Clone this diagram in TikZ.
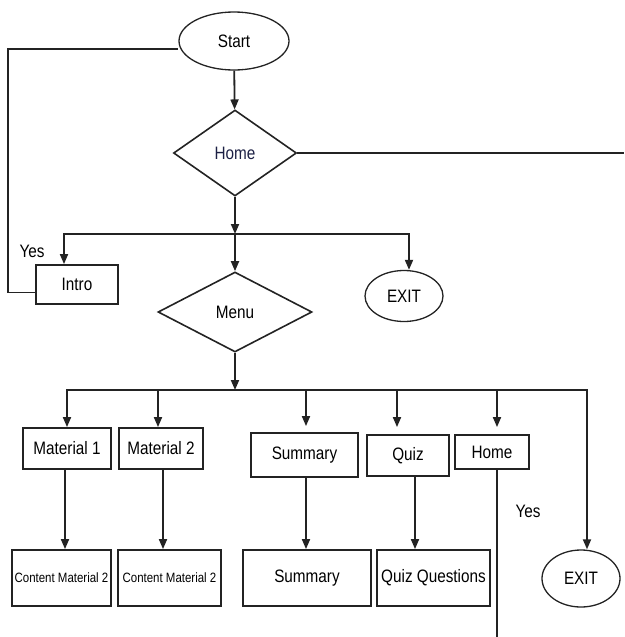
\documentclass[tikz,border=0pt]{standalone}
\usepackage{fontspec}
\setmainfont{Liberation Sans}[FakeStretch=0.85]
\usepackage{tikz}
\usetikzlibrary{positioning, arrows.meta, shapes.geometric}
\definecolor{linecolor}{RGB}{35,35,35}
\definecolor{homecolor}{RGB}{28,32,68}

\begin{document}
\begin{tikzpicture}[
    x=1pt, y=-1pt,
    box/.style={draw=linecolor, rectangle, line width=1.8pt, inner sep=0pt, font=\fontsize{18}{20}\selectfont},
    term/.style={draw=linecolor, ellipse, line width=1.3pt, inner sep=0pt, font=\fontsize{18}{20}\selectfont},
    decision/.style={draw=linecolor, diamond, line width=1.6pt, inner sep=0pt, font=\fontsize{18}{20}\selectfont},
    arrow/.style={-{Triangle[length=10pt, width=8pt]}, line width=1.8pt, linecolor},
    line/.style={line width=1.8pt, linecolor},
    lbl/.style={font=\fontsize{18}{20}\selectfont}
]
    \useasboundingbox (0,0) rectangle (624,637);

    % Haut
    \node[term, minimum width=110pt, minimum height=58pt] (start) at (234,41) {Start};
    \node[decision, minimum width=123pt, minimum height=86pt, text=homecolor] (home) at (235,153) {Home};
    \coordinate (j1) at (235,234);
    \coordinate (homeR) at (624,153);

    % Branches du premier niveau
    \node[box, minimum width=82pt, minimum height=39pt] (intro) at (77,284.5) {Intro};
    \node[lbl] (yes1) at (32,251) {Yes};
    \node[term, minimum width=78pt, minimum height=51pt] (exit1) at (404,296) {EXIT};
    \node[decision, minimum width=154pt, minimum height=80pt] (menu) at (235,312) {Menu};
    \coordinate (j2) at (235,390);
    \coordinate (loop) at (8,49);

    % Menu
    \node[box, minimum width=88pt, minimum height=41pt] (mat1) at (67,448.5) {Material 1};
    \node[box, minimum width=84pt, minimum height=41pt] (mat2) at (161,448.5) {Material 2};
    \node[box, minimum width=107pt, minimum height=44pt] (summ) at (304.5,455) {Summary};
    \node[box, minimum width=82pt, minimum height=41pt] (quiz) at (408,455.5) {Quiz};
    \node[box, minimum width=74pt, minimum height=34pt] (homeb) at (492,452) {Home};
    \node[lbl] (yes2) at (528,511) {Yes};

    % Contenus
    \node[box, minimum width=99pt, minimum height=56pt, font=\fontsize{13.5}{15}\selectfont] (cont1) at (61.5,578) {Content Material 2};
    \node[box, minimum width=103pt, minimum height=56pt, font=\fontsize{13.5}{15}\selectfont] (cont2) at (169.5,578) {Content Material 2};
    \node[box, minimum width=128pt, minimum height=56pt] (summ2) at (307,578) {Summary};
    \node[box, minimum width=113pt, minimum height=56pt] (quizq) at (433.5,578) {Quiz Questions};
    \node[term, minimum width=78pt, minimum height=57pt] (exit2) at (581,578.5) {EXIT};
    \coordinate (homeEnd) at (497,637);

    % Liaisons
    \draw[arrow] (start) -- (home);
    \draw[line] (home.east) -- (homeR);
    \draw[line] ([yshift=-8pt]intro.west) -| (loop) -- (loop -| start.west);
    \draw[arrow] (home.south) -- (j1);
    \draw[arrow] (j1) -- (menu.north);
    \draw[arrow] (j1) -| ([xshift=-13pt]intro.north);
    \draw[arrow] (j1) -| ([xshift=5pt]exit1.north);

    \draw[arrow] (menu.south) -- (j2);
    \draw[arrow] (j2) -| (mat1.north);
    \draw[arrow] (j2) -| ([xshift=-3pt]mat2.north);
    \draw[arrow, shorten >=6pt] (j2) -| ([xshift=1.5pt]summ.north);
    \draw[arrow, shorten >=7pt] (j2) -| ([xshift=-11pt]quiz.north);
    \draw[arrow, shorten >=7pt] (j2) -| ([xshift=5pt]homeb.north);
    \draw[arrow] (j2) -| ([xshift=6pt]exit2.north);

    \draw[arrow] ([xshift=-2pt]mat1.south) -- ([xshift=-2pt]mat1.south |- cont1.north);
    \draw[arrow] ([xshift=2pt]mat2.south) -- ([xshift=2pt]mat2.south |- cont2.north);
    \draw[arrow] ([xshift=1.5pt]summ.south) -- ([xshift=1.5pt]summ.south |- summ2.north);
    \draw[arrow] ([xshift=7pt]quiz.south) -- ([xshift=7pt]quiz.south |- quizq.north);
    \draw[line] (homeb.south -| homeEnd) -- (homeEnd);
\end{tikzpicture}
\end{document}
